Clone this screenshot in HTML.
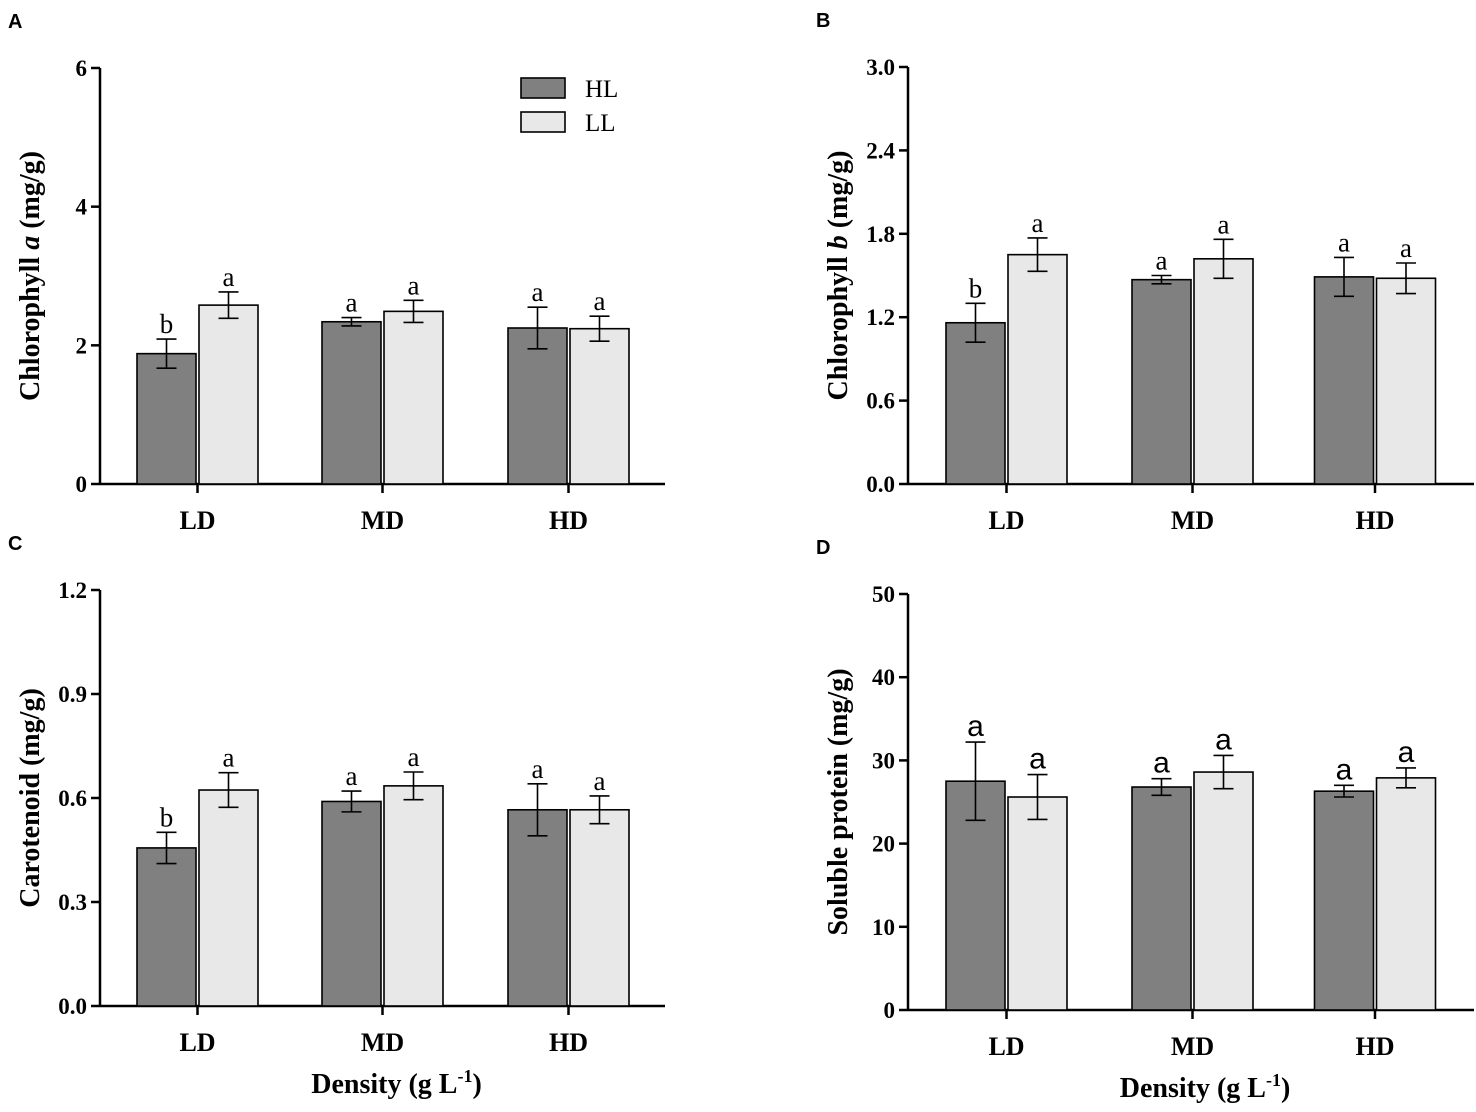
<!DOCTYPE html>
<html><head><meta charset="utf-8"><style>
body{margin:0;background:#fff}
svg{display:block}
</style></head><body>
<svg id="chart" width="1476" height="1112" viewBox="0 0 1476 1112" xmlns="http://www.w3.org/2000/svg" font-family="Liberation Serif, serif"></svg>
<script>
const categories=["LD","MD","HD"];
const seriesNames=["HL","LL"];
// Panel A chlorophyll a
const aHL=[1.88,2.34,2.25], aHLerr=[0.21,0.06,0.3], aLL=[2.58,2.49,2.24], aLLerr=[0.19,0.16,0.18];
const aHLsig=["b","a","a"], aLLsig=["a","a","a"], aTicks=[0,2,4,6];
// Panel B chlorophyll b
const bHL=[1.16,1.47,1.49], bHLerr=[0.14,0.03,0.14], bLL=[1.65,1.62,1.48], bLLerr=[0.12,0.14,0.11];
const bHLsig=["b","a","a"], bLLsig=["a","a","a"], bTicks=[0.0,0.6,1.2,1.8,2.4,3.0];
// Panel C carotenoid
const cHL=[0.456,0.59,0.566], cHLerr=[0.045,0.03,0.075], cLL=[0.623,0.635,0.566], cLLerr=[0.05,0.04,0.04];
const cHLsig=["b","a","a"], cLLsig=["a","a","a"], cTicks=[0.0,0.3,0.6,0.9,1.2];
// Panel D soluble protein
const dHL=[27.5,26.8,26.3], dHLerr=[4.7,1.0,0.7], dLL=[25.6,28.6,27.9], dLLerr=[2.7,2.0,1.2];
const dHLsig=["a","a","a"], dLLsig=["a","a","a"], dTicks=[0,10,20,30,40,50];

const svg=document.getElementById('chart');
const NS="http://www.w3.org/2000/svg";
const SANS='"Liberation Sans", sans-serif', SERIF='"Liberation Serif", serif';
function mk(tag,attrs,parent,txt){const e=document.createElementNS(NS,tag);for(const k in attrs)e.setAttribute(k,attrs[k]);if(txt!==undefined)e.textContent=txt;(parent||svg).appendChild(e);return e;}

function panel(o){
  const g=mk('g',{});
  
  
  const max=o.ticks[o.ticks.length-1];
  const y=v=>o.y0-(v/max)*(o.y0-o.yTop);
  const lab=mk('text',{x:o.x0-92,y:o.yTop-40,'font-family':SANS,'font-weight':'bold','font-size':20},g,o.id);
  
  const ya=mk('line',{x1:o.x0,y1:o.yTop,x2:o.x0,y2:o.y0,stroke:'#000','stroke-width':2.5},g);
  
  const xa=mk('line',{x1:o.x0,y1:o.y0,x2:o.xEnd,y2:o.y0,stroke:'#000','stroke-width':2.5},g);
  
  o.ticks.forEach(t=>{
    mk('line',{x1:o.x0-9,x2:o.x0,y1:y(t),y2:y(t),stroke:'#000','stroke-width':2.5},g);
    const tl=mk('text',{x:o.x0-13,y:y(t)+8,'text-anchor':'end','font-weight':'bold','font-size':23,'font-family':SERIF},g,o.fmt(t));
    
  });
  const yt=mk('text',{transform:`translate(${o.x0-61},${(o.yTop+o.y0)/2}) rotate(-90)`,'text-anchor':'middle','font-weight':'bold','font-size':28,'font-family':SERIF},g);
  
  if(o.italic){mk('tspan',{},yt,o.title[0]);mk('tspan',{'font-style':'italic'},yt,o.title[1]);mk('tspan',{},yt,o.title[2]);}
  else yt.textContent=o.title;
  const bw=59, gap=3;
  categories.forEach((c,i)=>{
    const cx=o.cx[i];
    mk('line',{x1:cx,x2:cx,y1:o.y0,y2:o.y0+9,stroke:'#000','stroke-width':2.5},g);
    const cl=mk('text',{x:cx,y:o.y0+45,'text-anchor':'middle','font-weight':'bold','font-size':26,'font-family':SERIF},g,c);
    
    const sets=[[o.hl,o.hlErr,o.hlSig,'#808080',cx-gap/2-bw],[o.ll,o.llErr,o.llSig,'#e8e8e8',cx+gap/2]];
    sets.forEach((s,k)=>{
      const v=s[0][i],e=s[1][i],x=s[4];
      const r=mk('rect',{x:x,y:y(v),width:bw,height:o.y0-y(v),fill:s[3],stroke:'#000','stroke-width':1.6},g);
      
      
      const mx=x+bw/2;
      const eb=mk('path',{d:`M${mx},${y(v+e)}V${y(v-e)}M${mx-10},${y(v+e)}H${mx+10}M${mx-10},${y(v-e)}H${mx+10}`,stroke:'#000','stroke-width':1.6,fill:'none'},g);
      
      const st=mk('text',{x:mx,y:y(v+e)-6,'text-anchor':'middle','font-size':o.sans?30:27,'font-family':o.sans?SANS:SERIF},g,s[2][i]);
      
    });
  });
  if(o.xtitle){
    const xt=mk('text',{x:(o.x0+o.xEnd)/2+14,y:o.y0+87,'text-anchor':'middle','font-weight':'bold','font-size':28,'font-family':SERIF},g);
    
    mk('tspan',{},xt,'Density (g L');mk('tspan',{dy:-11,'font-size':18},xt,'-1');mk('tspan',{dy:11},xt,')');
  }
}
panel({id:'A',x0:100,xEnd:665,yTop:68,y0:484,ticks:aTicks,fmt:t=>String(t),title:['Chlorophyll ','a',' (mg/g)'],italic:true,cx:[197.5,382.5,568.5],hl:aHL,hlErr:aHLerr,ll:aLL,llErr:aLLerr,hlSig:aHLsig,llSig:aLLsig});
panel({id:'B',x0:908,xEnd:1474,yTop:67,y0:484,ticks:bTicks,fmt:t=>t.toFixed(1),title:['Chlorophyll ','b',' (mg/g)'],italic:true,cx:[1006.5,1192.5,1375],hl:bHL,hlErr:bHLerr,ll:bLL,llErr:bLLerr,hlSig:bHLsig,llSig:bLLsig});
panel({id:'C',x0:100,xEnd:665,yTop:590,y0:1006,ticks:cTicks,fmt:t=>t.toFixed(1),title:'Carotenoid (mg/g)',cx:[197.5,382.5,568.5],hl:cHL,hlErr:cHLerr,ll:cLL,llErr:cLLerr,hlSig:cHLsig,llSig:cLLsig,xtitle:true});
panel({id:'D',x0:908,xEnd:1474,yTop:594,y0:1010,ticks:dTicks,fmt:t=>String(t),title:'Soluble protein (mg/g)',cx:[1006.5,1192.5,1375],hl:dHL,hlErr:dHLerr,ll:dLL,llErr:dLLerr,hlSig:dHLsig,llSig:dLLsig,xtitle:true,sans:true});
const lg=mk('g',{});

[['HL','#808080',78],['LL','#e8e8e8',112]].forEach(d=>{
  const r=mk('rect',{x:521,y:d[2],width:44,height:20,fill:d[1],stroke:'#000','stroke-width':1.6},lg);
  
  const t=mk('text',{x:585,y:d[2]+19,'font-size':25,'font-family':SERIF},lg,d[0]);
  
});
</script>
</body></html>
